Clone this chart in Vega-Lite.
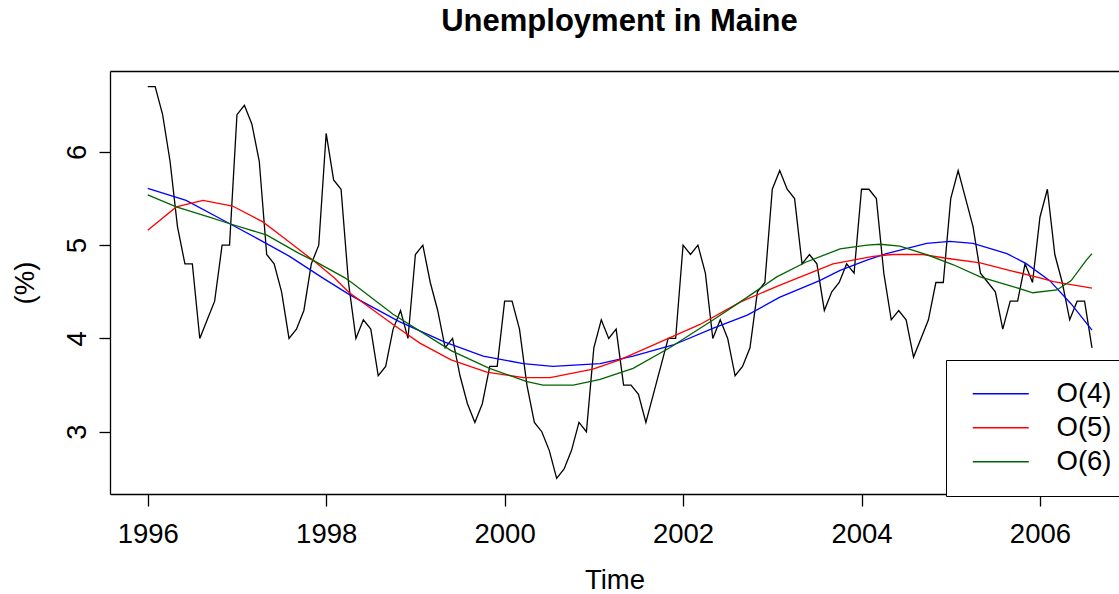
{
  "$schema": "https://vega.github.io/schema/vega-lite/v6.json",
  "width": 1009,
  "height": 423,
  "autosize": {"type": "none"},
  "padding": {"left": 110, "top": 71, "right": 0, "bottom": 100},
  "background": "white",
  "config": {
    "view": {"stroke": null},
    "font": "Liberation Sans",
    "axis": {"domainColor": "black", "domainWidth": 1.3, "tickColor": "black", "tickWidth": 1.3, "labelColor": "black", "titleColor": "black", "labelFont": "Liberation Sans", "titleFont": "Liberation Sans", "labelFontSize": 27.5, "titleFontSize": 27.5, "titleFontWeight": "normal", "grid": false}
  },
  "title": {"text": "Unemployment in Maine", "fontSize": 31, "fontWeight": "bold", "font": "Liberation Sans", "color": "black", "anchor": "middle", "baseline": "alphabetic", "offset": 9, "dx": 5},
  "datasets": {
    "obs": [
      {"t": 1996.0, "u": 6.7}, {"t": 1996.0833, "u": 6.7}, {"t": 1996.1667, "u": 6.4}, {"t": 1996.25, "u": 5.9}, {"t": 1996.3333, "u": 5.2}, {"t": 1996.4167, "u": 4.8}, {"t": 1996.5, "u": 4.8}, {"t": 1996.5833, "u": 4.0}, {"t": 1996.6667, "u": 4.2}, {"t": 1996.75, "u": 4.4}, {"t": 1996.8333, "u": 5.0}, {"t": 1996.9167, "u": 5.0},
      {"t": 1997.0, "u": 6.4}, {"t": 1997.0833, "u": 6.5}, {"t": 1997.1667, "u": 6.3}, {"t": 1997.25, "u": 5.9}, {"t": 1997.3333, "u": 4.9}, {"t": 1997.4167, "u": 4.8}, {"t": 1997.5, "u": 4.5}, {"t": 1997.5833, "u": 4.0}, {"t": 1997.6667, "u": 4.1}, {"t": 1997.75, "u": 4.3}, {"t": 1997.8333, "u": 4.8}, {"t": 1997.9167, "u": 5.0},
      {"t": 1998.0, "u": 6.2}, {"t": 1998.0833, "u": 5.7}, {"t": 1998.1667, "u": 5.6}, {"t": 1998.25, "u": 4.6}, {"t": 1998.3333, "u": 4.0}, {"t": 1998.4167, "u": 4.2}, {"t": 1998.5, "u": 4.1}, {"t": 1998.5833, "u": 3.6}, {"t": 1998.6667, "u": 3.7}, {"t": 1998.75, "u": 4.1}, {"t": 1998.8333, "u": 4.3}, {"t": 1998.9167, "u": 4.0},
      {"t": 1999.0, "u": 4.9}, {"t": 1999.0833, "u": 5.0}, {"t": 1999.1667, "u": 4.6}, {"t": 1999.25, "u": 4.3}, {"t": 1999.3333, "u": 3.9}, {"t": 1999.4167, "u": 4.0}, {"t": 1999.5, "u": 3.6}, {"t": 1999.5833, "u": 3.3}, {"t": 1999.6667, "u": 3.1}, {"t": 1999.75, "u": 3.3}, {"t": 1999.8333, "u": 3.7}, {"t": 1999.9167, "u": 3.7},
      {"t": 2000.0, "u": 4.4}, {"t": 2000.0833, "u": 4.4}, {"t": 2000.1667, "u": 4.1}, {"t": 2000.25, "u": 3.5}, {"t": 2000.3333, "u": 3.1}, {"t": 2000.4167, "u": 3.0}, {"t": 2000.5, "u": 2.8}, {"t": 2000.5833, "u": 2.5}, {"t": 2000.6667, "u": 2.6}, {"t": 2000.75, "u": 2.8}, {"t": 2000.8333, "u": 3.1}, {"t": 2000.9167, "u": 3.0},
      {"t": 2001.0, "u": 3.9}, {"t": 2001.0833, "u": 4.2}, {"t": 2001.1667, "u": 4.0}, {"t": 2001.25, "u": 4.1}, {"t": 2001.3333, "u": 3.5}, {"t": 2001.4167, "u": 3.5}, {"t": 2001.5, "u": 3.4}, {"t": 2001.5833, "u": 3.1}, {"t": 2001.6667, "u": 3.4}, {"t": 2001.75, "u": 3.7}, {"t": 2001.8333, "u": 4.0}, {"t": 2001.9167, "u": 4.0},
      {"t": 2002.0, "u": 5.0}, {"t": 2002.0833, "u": 4.9}, {"t": 2002.1667, "u": 5.0}, {"t": 2002.25, "u": 4.7}, {"t": 2002.3333, "u": 4.0}, {"t": 2002.4167, "u": 4.2}, {"t": 2002.5, "u": 4.0}, {"t": 2002.5833, "u": 3.6}, {"t": 2002.6667, "u": 3.7}, {"t": 2002.75, "u": 3.9}, {"t": 2002.8333, "u": 4.5}, {"t": 2002.9167, "u": 4.6},
      {"t": 2003.0, "u": 5.6}, {"t": 2003.0833, "u": 5.8}, {"t": 2003.1667, "u": 5.6}, {"t": 2003.25, "u": 5.5}, {"t": 2003.3333, "u": 4.8}, {"t": 2003.4167, "u": 4.9}, {"t": 2003.5, "u": 4.8}, {"t": 2003.5833, "u": 4.3}, {"t": 2003.6667, "u": 4.5}, {"t": 2003.75, "u": 4.6}, {"t": 2003.8333, "u": 4.8}, {"t": 2003.9167, "u": 4.7},
      {"t": 2004.0, "u": 5.6}, {"t": 2004.0833, "u": 5.6}, {"t": 2004.1667, "u": 5.5}, {"t": 2004.25, "u": 4.7}, {"t": 2004.3333, "u": 4.2}, {"t": 2004.4167, "u": 4.3}, {"t": 2004.5, "u": 4.2}, {"t": 2004.5833, "u": 3.8}, {"t": 2004.6667, "u": 4.0}, {"t": 2004.75, "u": 4.2}, {"t": 2004.8333, "u": 4.6}, {"t": 2004.9167, "u": 4.6},
      {"t": 2005.0, "u": 5.5}, {"t": 2005.0833, "u": 5.8}, {"t": 2005.1667, "u": 5.5}, {"t": 2005.25, "u": 5.2}, {"t": 2005.3333, "u": 4.7}, {"t": 2005.4167, "u": 4.6}, {"t": 2005.5, "u": 4.5}, {"t": 2005.5833, "u": 4.1}, {"t": 2005.6667, "u": 4.4}, {"t": 2005.75, "u": 4.4}, {"t": 2005.8333, "u": 4.8}, {"t": 2005.9167, "u": 4.6},
      {"t": 2006.0, "u": 5.3}, {"t": 2006.0833, "u": 5.6}, {"t": 2006.1667, "u": 4.9}, {"t": 2006.25, "u": 4.6}, {"t": 2006.3333, "u": 4.2}, {"t": 2006.4167, "u": 4.4}, {"t": 2006.5, "u": 4.4}, {"t": 2006.5833, "u": 3.9}
    ],
    "fits": [
      {"s": "O(4)", "t": 1996.0, "v": 5.61}, {"s": "O(4)", "t": 1996.43, "v": 5.48}, {"s": "O(4)", "t": 1996.92, "v": 5.23}, {"s": "O(4)", "t": 1997.25, "v": 5.06}, {"s": "O(4)", "t": 1997.59, "v": 4.88}, {"s": "O(4)", "t": 1997.96, "v": 4.65}, {"s": "O(4)", "t": 1998.26, "v": 4.47}, {"s": "O(4)", "t": 1998.82, "v": 4.18}, {"s": "O(4)", "t": 1999.33, "v": 3.96}, {"s": "O(4)", "t": 1999.76, "v": 3.81}, {"s": "O(4)", "t": 2000.21, "v": 3.73}, {"s": "O(4)", "t": 2000.54, "v": 3.70}, {"s": "O(4)", "t": 2001.07, "v": 3.73}, {"s": "O(4)", "t": 2001.44, "v": 3.81}, {"s": "O(4)", "t": 2001.89, "v": 3.93}, {"s": "O(4)", "t": 2002.34, "v": 4.11}, {"s": "O(4)", "t": 2002.72, "v": 4.25}, {"s": "O(4)", "t": 2003.08, "v": 4.44}, {"s": "O(4)", "t": 2003.53, "v": 4.62}, {"s": "O(4)", "t": 2003.76, "v": 4.73}, {"s": "O(4)", "t": 2004.06, "v": 4.84}, {"s": "O(4)", "t": 2004.28, "v": 4.91}, {"s": "O(4)", "t": 2004.73, "v": 5.02}, {"s": "O(4)", "t": 2004.99, "v": 5.04}, {"s": "O(4)", "t": 2005.25, "v": 5.02}, {"s": "O(4)", "t": 2005.63, "v": 4.91}, {"s": "O(4)", "t": 2005.85, "v": 4.80}, {"s": "O(4)", "t": 2006.11, "v": 4.62}, {"s": "O(4)", "t": 2006.35, "v": 4.37}, {"s": "O(4)", "t": 2006.5833, "v": 4.09},
      {"s": "O(5)", "t": 1996.0, "v": 5.16}, {"s": "O(5)", "t": 1996.32, "v": 5.41}, {"s": "O(5)", "t": 1996.62, "v": 5.48}, {"s": "O(5)", "t": 1996.95, "v": 5.42}, {"s": "O(5)", "t": 1997.29, "v": 5.25}, {"s": "O(5)", "t": 1997.55, "v": 5.06}, {"s": "O(5)", "t": 1997.85, "v": 4.84}, {"s": "O(5)", "t": 1998.09, "v": 4.65}, {"s": "O(5)", "t": 1998.26, "v": 4.49}, {"s": "O(5)", "t": 1998.75, "v": 4.15}, {"s": "O(5)", "t": 1999.05, "v": 3.95}, {"s": "O(5)", "t": 1999.4, "v": 3.77}, {"s": "O(5)", "t": 1999.8, "v": 3.64}, {"s": "O(5)", "t": 2000.21, "v": 3.58}, {"s": "O(5)", "t": 2000.51, "v": 3.58}, {"s": "O(5)", "t": 2000.99, "v": 3.67}, {"s": "O(5)", "t": 2001.29, "v": 3.77}, {"s": "O(5)", "t": 2001.81, "v": 3.99}, {"s": "O(5)", "t": 2002.19, "v": 4.15}, {"s": "O(5)", "t": 2002.64, "v": 4.39}, {"s": "O(5)", "t": 2003.08, "v": 4.57}, {"s": "O(5)", "t": 2003.68, "v": 4.80}, {"s": "O(5)", "t": 2004.13, "v": 4.88}, {"s": "O(5)", "t": 2004.35, "v": 4.90}, {"s": "O(5)", "t": 2004.69, "v": 4.90}, {"s": "O(5)", "t": 2004.95, "v": 4.86}, {"s": "O(5)", "t": 2005.33, "v": 4.81}, {"s": "O(5)", "t": 2005.7, "v": 4.72}, {"s": "O(5)", "t": 2006.0, "v": 4.65}, {"s": "O(5)", "t": 2006.15, "v": 4.61}, {"s": "O(5)", "t": 2006.5833, "v": 4.54},
      {"s": "O(6)", "t": 1996.0, "v": 5.54}, {"s": "O(6)", "t": 1996.32, "v": 5.41}, {"s": "O(6)", "t": 1996.69, "v": 5.30}, {"s": "O(6)", "t": 1996.92, "v": 5.23}, {"s": "O(6)", "t": 1997.33, "v": 5.11}, {"s": "O(6)", "t": 1997.7, "v": 4.91}, {"s": "O(6)", "t": 1997.85, "v": 4.84}, {"s": "O(6)", "t": 1998.21, "v": 4.65}, {"s": "O(6)", "t": 1998.3, "v": 4.59}, {"s": "O(6)", "t": 1998.75, "v": 4.26}, {"s": "O(6)", "t": 1999.4, "v": 3.87}, {"s": "O(6)", "t": 1999.83, "v": 3.68}, {"s": "O(6)", "t": 2000.24, "v": 3.54}, {"s": "O(6)", "t": 2000.43, "v": 3.50}, {"s": "O(6)", "t": 2000.77, "v": 3.50}, {"s": "O(6)", "t": 2001.07, "v": 3.56}, {"s": "O(6)", "t": 2001.44, "v": 3.68}, {"s": "O(6)", "t": 2001.85, "v": 3.90}, {"s": "O(6)", "t": 2002.34, "v": 4.20}, {"s": "O(6)", "t": 2002.7, "v": 4.43}, {"s": "O(6)", "t": 2003.05, "v": 4.66}, {"s": "O(6)", "t": 2003.38, "v": 4.82}, {"s": "O(6)", "t": 2003.76, "v": 4.96}, {"s": "O(6)", "t": 2004.06, "v": 5.00}, {"s": "O(6)", "t": 2004.21, "v": 5.01}, {"s": "O(6)", "t": 2004.43, "v": 4.99}, {"s": "O(6)", "t": 2004.73, "v": 4.90}, {"s": "O(6)", "t": 2005.03, "v": 4.79}, {"s": "O(6)", "t": 2005.33, "v": 4.66}, {"s": "O(6)", "t": 2005.65, "v": 4.57}, {"s": "O(6)", "t": 2005.92, "v": 4.49}, {"s": "O(6)", "t": 2006.19, "v": 4.52}, {"s": "O(6)", "t": 2006.35, "v": 4.62}, {"s": "O(6)", "t": 2006.52, "v": 4.84}, {"s": "O(6)", "t": 2006.5833, "v": 4.91}
    ]
  },
  "layer": [
    {
      "data": {"name": "obs"},
      "mark": {"type": "line", "color": "black", "strokeWidth": 1.3},
      "encoding": {
        "x": {"field": "t", "type": "quantitative", "scale": {"domain": [1995.577, 2006.886], "nice": false, "zero": false},
          "axis": {"orient": "bottom", "title": "Time", "values": [1996, 1998, 2000, 2002, 2004, 2006], "format": "d", "tickSize": 12, "labelPadding": 14, "titlePadding": 19, "labelFlush": false, "labelOverlap": false}},
        "y": {"field": "u", "type": "quantitative", "scale": {"domain": [2.332, 6.868], "nice": false, "zero": false},
          "axis": {"title": "(%)", "values": [3, 4, 5, 6], "format": "d", "tickSize": 11, "labelAngle": 270, "labelAlign": "center", "labelBaseline": "alphabetic", "labelPadding": 14, "titlePadding": 24, "labelFlush": false, "labelOverlap": false}}
      }
    },
    {
      "data": {"name": "fits"},
      "mark": {"type": "line", "strokeWidth": 1.3},
      "encoding": {
        "x": {"field": "t", "type": "quantitative", "axis": {"orient": "top", "labels": false, "ticks": false, "domain": true, "title": null}},
        "y": {"field": "v", "type": "quantitative"},
        "color": {"field": "s", "type": "nominal", "scale": {"domain": ["O(4)", "O(5)", "O(6)"], "range": ["#0000FF", "#FF0000", "#006400"]},
          "legend": {"title": null, "orient": "none", "legendX": 836, "legendY": 289, "strokeColor": "black", "fillColor": "white", "cornerRadius": 0, "padding": 20, "symbolType": "M-3.5,0H3.5", "symbolSize": 256, "symbolStrokeWidth": 1.3, "symbolOffset": 21, "labelOffset": 42, "labelFontSize": 27.5, "labelFont": "Liberation Sans", "labelColor": "black", "rowPadding": 5, "labelLimit": 300}}
      }
    }
  ],
  "resolve": {"axis": {"x": "independent"}}
}
